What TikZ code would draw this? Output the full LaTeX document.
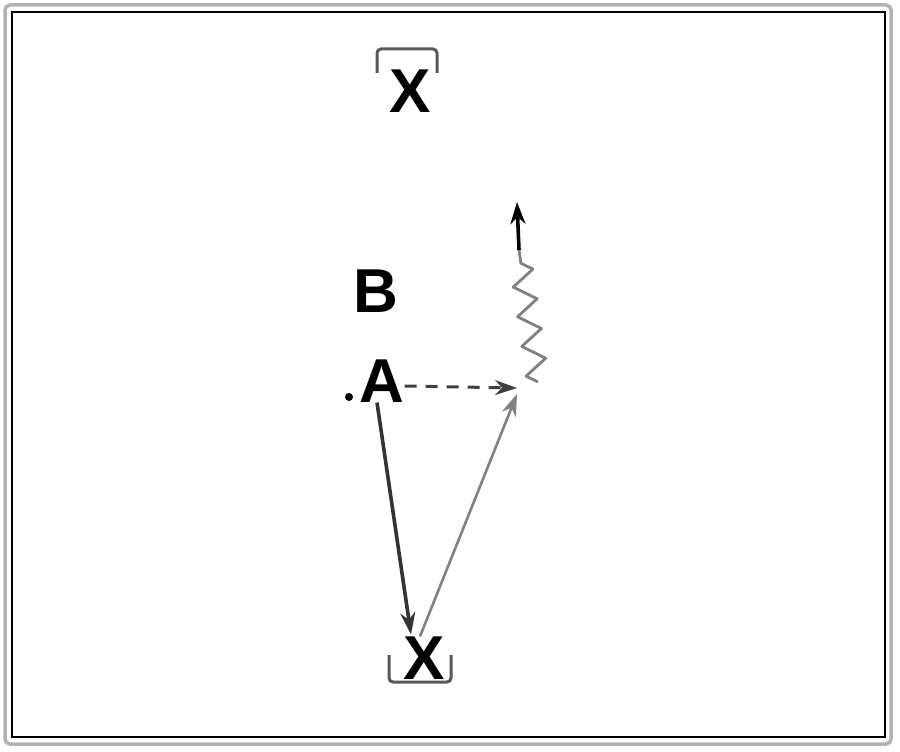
\documentclass[tikz,border=0pt]{standalone}
\usepackage{fontspec}
\setmainfont{Liberation Sans}
\usetikzlibrary{arrows.meta}
\usetikzlibrary{decorations.pathmorphing}

\begin{document}
\begin{tikzpicture}[x=1pt,y=-1pt,>={Stealth[length=22pt,width=15pt]},
		letter/.style={font=\fontsize{62}{62}\selectfont\bfseries,inner sep=0pt},
		bracket/.style={line width=3pt,gray!70!black,rounded corners=4pt}]
		\useasboundingbox (0,0) rectangle (900,752);
		% frame
		\draw[line width=3.5pt,gray!60,rounded corners=5pt] (5,5) rectangle (891,744);
		\draw[line width=1.2pt] (12,12) rectangle (885,737);
		% letters
		\node[letter] (xtop) at (410,91) {X};
		\node[letter] (B) at (376,291) {B};
		\node[letter] (A) at (382,381) {A};
		\node[letter] (xbot) at (424,658) {X};
		\node[circle,fill,inner sep=0pt,minimum size=8pt] (dot) at (349,397) {};
		% brackets
		\draw[bracket] (377,73) -- (377,49) -- (437,49) -- (437,73);
		\draw[bracket] (389,655) -- (389,682) -- (451,682) -- (451,655);
		% arrows
		\coordinate (tip) at (517,394);
		\coordinate (wave) at (538,382);
		\coordinate (bend) at (519,250);
		\coordinate (top) at (517,202);
		\draw[->,line width=3.6pt,black!80] ([xshift=-5pt]A.south) -- ([xshift=-13pt,yshift=2pt]xbot.north);
		\draw[->,line width=2.6pt,gray] ([xshift=-4pt]xbot.north) -- (tip);
		\draw[->,line width=3pt,dash pattern=on 12pt off 9pt,black!75] ([yshift=-5pt]A.east) -- ([yshift=6pt]tip);
		\draw[gray,line width=2.8pt,line join=round,decorate,decoration={zigzag,segment length=30pt,amplitude=11pt}] (wave) -- (bend);
		\draw[->,line width=3.6pt] (bend) -- (top);
\end{tikzpicture}
\end{document}
